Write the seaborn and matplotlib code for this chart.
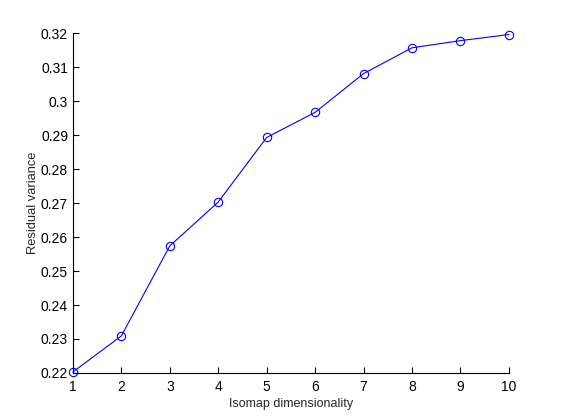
import pandas as pd
import matplotlib
matplotlib.use("Agg")
import matplotlib.pyplot as plt
import seaborn as sns

dims = [1, 2, 3, 4, 5, 6, 7, 8, 9, 10]
residual = [0.2203, 0.2309, 0.2574, 0.2703, 0.2893, 0.2967, 0.3081, 0.3157, 0.3178, 0.3196]
yticks = [0.22, 0.23, 0.24, 0.25, 0.26, 0.27, 0.28, 0.29, 0.3, 0.31, 0.32]
yticklabels = ["0.22", "0.23", "0.24", "0.25", "0.26", "0.27", "0.28", "0.29", "0.3", "0.31", "0.32"]

df = pd.DataFrame({"dim": dims, "resvar": residual})

sns.set_style("ticks")
plt.rcParams["font.family"] = ["Liberation Sans", "DejaVu Sans"]

fig = plt.figure(figsize=(5.61, 4.2), dpi=100)
ax = fig.add_axes([0.13, 0.112, 0.777, 0.809])

sns.lineplot(data=df, x="dim", y="resvar", ax=ax, color="blue", linewidth=0.8,
             marker="o", markersize=6, markerfacecolor="none",
             markeredgecolor="blue", markeredgewidth=0.8)
for ln in ax.lines:
    ln.set_clip_on(False)

ax.set_xlim(1, 10)
ax.set_ylim(0.22, 0.32)
ax.set_xticks(dims)
ax.set_yticks(yticks)
ax.set_yticklabels(yticklabels)
ax.tick_params(direction="in", length=4, width=0.8, labelsize=10, colors="black")
ax.tick_params(axis="x", pad=5)
ax.tick_params(axis="y", pad=3.5)
for s in ["top", "right"]:
    ax.spines[s].set_visible(False)
for s in ["left", "bottom"]:
    ax.spines[s].set_linewidth(0.8)
    ax.spines[s].set_color("black")
ax.set_xlabel("Isomap dimensionality", fontsize=9, labelpad=3)
ax.set_ylabel("Residual variance", fontsize=9.3, labelpad=1.5)

fig.savefig("out.png", dpi=100)
